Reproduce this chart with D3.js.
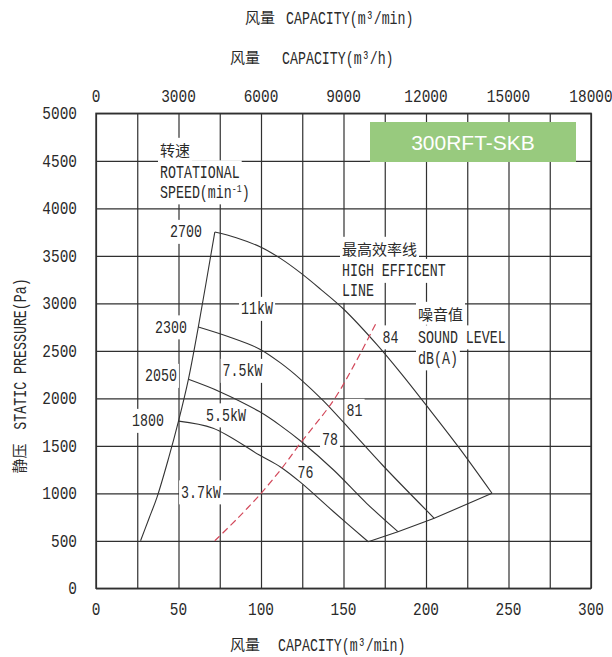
<!DOCTYPE html>
<html><head><meta charset="utf-8">
<script src="https://cdn.jsdelivr.net/npm/d3@7"></script>
<style>body{margin:0;background:#fff}svg{display:block}</style>
</head><body>
<svg id="c" width="612" height="657"></svg>
<script>
// ---------- data ----------
const xTicksMin = [0, 50, 100, 150, 200, 250, 300];
const xTicksHour = [0, 3000, 6000, 9000, 12000, 15000, 18000];
const yTicks = [0, 500, 1000, 1500, 2000, 2500, 3000, 3500, 4000, 4500, 5000];
const xGrid = [0, 25, 50, 75, 100, 125, 150, 175, 200, 225, 250, 275, 300];

const rpm2700 = [[72,3750],[85,3690],[100,3590],[112,3470],[124,3320],[136,3150],[150,2940],[170,2570],[185,2260],[200,1930],[220,1480],[240,1000]];
const rpm2300 = [[62,2750],[80,2650],[99,2520],[112,2370],[124,2200],[138,1970],[154,1670],[174,1290],[205,737]];
const rpm2050 = [[56,2200],[75,2070],[99,1860],[112,1710],[124,1550],[144,1245],[164,895],[183,596]];
const rpm1800 = [[50,1760],[71,1684],[99,1403],[112,1275],[124,1115],[144,806],[165,490]];
const leftBoundary = [[27,500],[32,730],[37,960],[44,1370],[50,1760],[56,2200],[62,2750],[72,3750]];
const bottomBoundary = [[165,490],[183,596],[205,737],[240,1000]];
const highEfficiency = [[72,500],[86,740],[99,980],[112,1250],[124,1530],[144,1980],[158,2400],[170,2800]];

const speedLabels = ["2700", "2300", "2050", "1800"];
const powerLabels = ["11kW", "7.5kW", "5.5kW", "3.7kW"];
const soundLabels = ["76", "78", "81", "84"];
const modelName = "300RFT-SKB";

// ---------- setup ----------
const svg = d3.select("#c");
const x = d3.scaleLinear().domain([0, 300]).range([96, 591]);
const xh = d3.scaleLinear().domain([0, 18000]).range([96, 591]);
const y = d3.scaleLinear().domain([0, 5000]).range([588.3, 113.3]);
const MONO = "'Liberation Mono', 'DejaVu Sans Mono', monospace";
const CJK = "'Noto Sans CJK SC', sans-serif";
const INK = "#333";
const TXT = "#2a2a2a";

const gGrid = svg.append("g");
const gBg = svg.append("g");
const gCurves = svg.append("g");
const gText = svg.append("g");

// grid via axes
gGrid.append("g").attr("transform", `translate(0,${y(0)})`)
  .call(d3.axisBottom(x).tickValues(xGrid).tickSize(-(y(0) - y(5000))).tickFormat(""))
  .call(g => g.select(".domain").remove())
  .call(g => g.selectAll("line").attr("stroke", "#303030").attr("stroke-width", 1.2));
gGrid.append("g").attr("transform", `translate(${x(0)},0)`)
  .call(d3.axisLeft(y).tickValues(yTicks).tickSize(-(x(300) - x(0))).tickFormat(""))
  .call(g => g.select(".domain").remove())
  .call(g => g.selectAll("line").attr("stroke", "#303030").attr("stroke-width", 1.2));
gGrid.append("rect").attr("x", x(0)).attr("y", y(5000))
  .attr("width", x(300) - x(0)).attr("height", y(0) - y(5000))
  .attr("fill", "none").attr("stroke", "#303030").attr("stroke-width", 1.4);

// text helper
function lab(px, py, txt, o = {}) {
  const size = o.size || 19, sx = o.sx || 0.7, anchor = o.anchor || "start";
  const t = gText.append("text")
    .attr("transform", `translate(${px},${py}) scale(${sx},1)`)
    .attr("text-anchor", anchor).attr("dy", "0.32em")
    .attr("font-family", o.font || MONO).attr("font-size", size)
    .attr("fill", o.fill || TXT);
  if (o.sup) {
    t.append("tspan").text(txt);
    t.append("tspan").attr("font-size", size * 0.62).attr("dy", -size * 0.32).text(o.sup);
    t.append("tspan").attr("dy", size * 0.32).text(o.after || "");
  } else t.text(txt);
  if (o.bg) {
    const b = t.node().getBoundingClientRect();
    const p = o.pad == null ? 2 : o.pad;
    gBg.append("rect").attr("x", b.left - p).attr("y", b.top - p + 1)
      .attr("width", b.width + 2 * p).attr("height", b.height + 2 * p - 2).attr("fill", "#fff");
  }
  return t;
}
function cjk(px, py, txt, o = {}) {
  return lab(px, py, txt, Object.assign({font: CJK, size: 15, sx: 1}, o));
}

// curves
const line = d3.line().x(d => x(d[0])).y(d => y(d[1])).curve(d3.curveCatmullRom.alpha(0.5));
[rpm2700, rpm2300, rpm2050, rpm1800, leftBoundary].forEach(c =>
  gCurves.append("path").attr("d", line(c)).attr("fill", "none").attr("stroke", INK).attr("stroke-width", 1.1));
gCurves.append("path").attr("d", d3.line().x(d => x(d[0])).y(d => y(d[1]))(bottomBoundary))
  .attr("fill", "none").attr("stroke", INK).attr("stroke-width", 1.1);
gCurves.append("path").attr("d", line(highEfficiency)).attr("fill", "none")
  .attr("stroke", "#d2485a").attr("stroke-width", 1.2).attr("stroke-dasharray", "7,4");

// axis tick labels
yTicks.forEach(v => lab(77, y(v), String(v), {anchor: "end", sx: 0.76}));
xTicksMin.forEach(v => lab(x(v), 609, String(v), {anchor: "middle", sx: 0.76}));
xTicksHour.forEach(v => lab(xh(v), 96, String(v), {anchor: "middle", sx: 0.76}));

// titles
cjk(245, 18, "风量"); lab(286, 18, "CAPACITY(m³/min)");
cjk(230, 58, "风量"); lab(282, 58, "CAPACITY(m³/h)");
cjk(230, 645, "风量"); lab(278, 645, "CAPACITY(m³/min)");
// y title (rotated)
gText.append("text").attr("transform", "translate(20,354) rotate(-90) scale(0.7,1)")
  .attr("text-anchor", "middle").attr("dy", "0.32em")
  .attr("font-family", MONO).attr("font-size", 19).attr("fill", TXT).text("STATIC PRESSURE(Pa)");
gText.append("text").attr("transform", "translate(20,458.5) rotate(-90)")
  .attr("text-anchor", "middle").attr("dy", "0.36em")
  .attr("font-family", CJK).attr("font-size", 15).attr("fill", TXT).text("静压");

// model box
svg.append("rect").attr("x", 370).attr("y", 122).attr("width", 206).attr("height", 40).attr("fill", "#98ca7e");
svg.append("text").attr("x", 473).attr("y", 142).attr("dy", "0.36em").attr("text-anchor", "middle")
  .attr("font-family", "'Liberation Sans', Arial, sans-serif").attr("font-size", 21)
  .attr("fill", "#fff").text(modelName);

// rotational speed annotation
cjk(160, 151, "转速", {bg: true});
lab(160, 171.5, "ROTATIONAL", {bg: true});
lab(160, 191.5, "SPEED(min", {bg: true, sup: "-1", after: ")"});

// speed labels
[[186, 231], [171, 326.5], [161, 375], [148, 420]].forEach((p, i) =>
  lab(p[0], p[1], speedLabels[i], {anchor: "middle", bg: true}));
// power labels
[[257, 308], [242.5, 370], [226, 414.5], [201, 491.5]].forEach((p, i) =>
  lab(p[0], p[1], powerLabels[i], {anchor: "middle", bg: true}));
// sound labels
[[305.5, 471.5], [330, 438.5], [354.5, 410], [390.5, 336.5]].forEach((p, i) =>
  lab(p[0], p[1], soundLabels[i], {anchor: "middle", bg: true}));

// high efficiency line annotation
cjk(342, 250, "最高效率线", {bg: true});
lab(342, 270, "HIGH EFFICENT", {bg: true});
lab(342, 290, "LINE", {bg: true});
// sound level annotation
cjk(418, 315, "噪音值", {bg: true});
lab(418, 336.5, "SOUND LEVEL", {bg: true});
lab(418, 357.5, "dB(A)", {bg: true});
</script>
</body></html>
